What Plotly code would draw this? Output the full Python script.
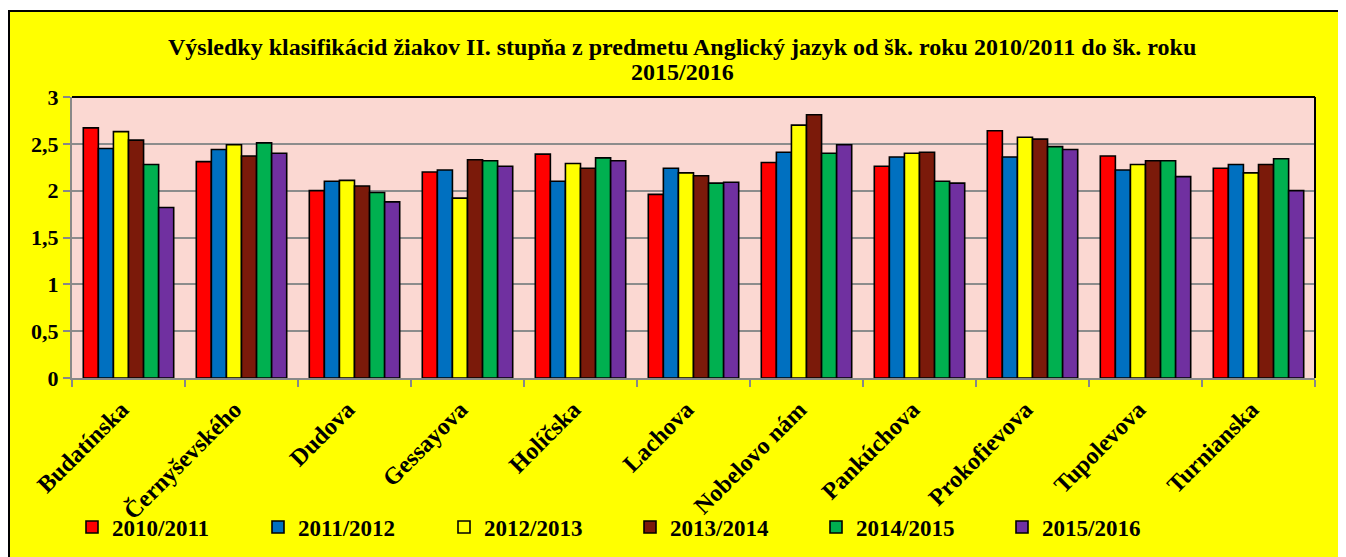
import plotly.graph_objects as go

categories = ["Budatínska", "Černyševského", "Dudova", "Gessayova", "Holíčska", "Lachova",
              "Nobelovo nám", "Pankúchova", "Prokofievova", "Tupolevova", "Turnianska"]
series_names = ["2010/2011", "2011/2012", "2012/2013", "2013/2014", "2014/2015", "2015/2016"]
v2010 = [2.67, 2.31, 2.00, 2.20, 2.39, 1.96, 2.30, 2.26, 2.64, 2.37, 2.24]
v2011 = [2.45, 2.44, 2.10, 2.22, 2.10, 2.24, 2.41, 2.36, 2.36, 2.22, 2.28]
v2012 = [2.63, 2.49, 2.11, 1.92, 2.29, 2.19, 2.70, 2.40, 2.57, 2.28, 2.19]
v2013 = [2.54, 2.37, 2.05, 2.33, 2.24, 2.16, 2.81, 2.41, 2.55, 2.32, 2.28]
v2014 = [2.28, 2.51, 1.98, 2.32, 2.35, 2.08, 2.40, 2.10, 2.47, 2.32, 2.34]
v2015 = [1.82, 2.40, 1.88, 2.26, 2.32, 2.09, 2.49, 2.08, 2.44, 2.15, 2.00]
series_values = [v2010, v2011, v2012, v2013, v2014, v2015]
colors = ["#FF0000", "#0070C0", "#FFFF00", "#7B1A0A", "#00B050", "#7030A0"]
ytick_vals = [0, 0.5, 1, 1.5, 2, 2.5, 3]
ytick_text = ["0", "0,5", "1", "1,5", "2", "2,5", "3"]
title_line1 = "Výsledky klasifikácid žiakov II. stupňa z predmetu Anglický jazyk od šk. roku 2010/2011 do šk. roku"
title_line2 = "2015/2016"

# figure is placed by the page with an 8px body margin
W, H = 1338, 549
L, R, T, B = 64, 31, 89, 179
PW = W - L - R
PH = H - T - B


def px(x):
    return (x - L) / PW


def py(y):
    return (H - B - y) / PH


FONT = "Liberation Serif"
PINK = "#FBD8D2"

fig = go.Figure()
for name, vals, col in zip(series_names, series_values, colors):
    fig.add_trace(go.Bar(
        x=categories, y=vals, name=name,
        marker=dict(color=col, line=dict(color="#000000", width=1.6)),
    ))

fig.update_layout(
    width=W, height=H,
    margin=dict(l=L, r=R, t=T, b=B, autoexpand=False),
    paper_bgcolor="#FFFFFF",
    plot_bgcolor=PINK,
    barmode="group", bargap=0.2, bargroupgap=0,
    font=dict(family=FONT, color="#000000"),
    showlegend=True,
    legend=dict(
        orientation="h", x=px(64), y=py(519), xanchor="left", yanchor="middle",
        font=dict(family=FONT, size=23, color="#000000", weight="bold"),
        bgcolor="rgba(0,0,0,0)", entrywidth=141, entrywidthmode="pixels",
        traceorder="normal", itemwidth=30,
    ),
    xaxis=dict(
        type="category", tickson="boundaries", ticks="outside", ticklen=7,
        tickcolor="#888888", tickwidth=2,
        showline=True, linecolor="#888888", linewidth=2,
        tickangle=-45, showgrid=False,
        ticklabelshift=-7, ticklabelstandoff=6,
        tickfont=dict(family=FONT, size=24, color="#000000", weight="bold"),
    ),
    yaxis=dict(
        range=[0, 3], tickvals=ytick_vals, ticktext=ytick_text,
        ticks="outside", ticklen=7, tickcolor="#888888", tickwidth=2,
        showline=True, linecolor="#888888", linewidth=2,
        showgrid=True, gridcolor="#8C8C8C", gridwidth=2,
        zeroline=False,
        tickfont=dict(family=FONT, size=22, color="#000000", weight="bold"),
    ),
    shapes=[
        dict(type="rect", xref="paper", yref="paper", layer="below",
             x0=px(1), x1=px(1360), y0=py(570), y1=py(3),
             fillcolor="#FFFF00", line=dict(color="#000000", width=2)),
        dict(type="rect", xref="paper", yref="paper", layer="below",
             x0=0, x1=1, y0=0, y1=1,
             fillcolor=PINK, line=dict(width=0)),
        dict(type="line", xref="paper", yref="paper", layer="above",
             x0=0, x1=1, y0=1, y1=1, line=dict(color="#000000", width=2)),
        dict(type="line", xref="paper", yref="paper", layer="above",
             x0=1, x1=1, y0=0, y1=1, line=dict(color="#000000", width=2)),
    ],
    annotations=[
        dict(text=title_line1, xref="paper", yref="paper", x=px(674), y=py(39),
             xanchor="center", yanchor="middle", showarrow=False,
             font=dict(family=FONT, size=24, color="#000000", weight="bold")),
        dict(text=title_line2, xref="paper", yref="paper", x=px(674), y=py(64),
             xanchor="center", yanchor="middle", showarrow=False,
             font=dict(family=FONT, size=24, color="#000000", weight="bold")),
    ],
)

fig.write_html("out.html")
